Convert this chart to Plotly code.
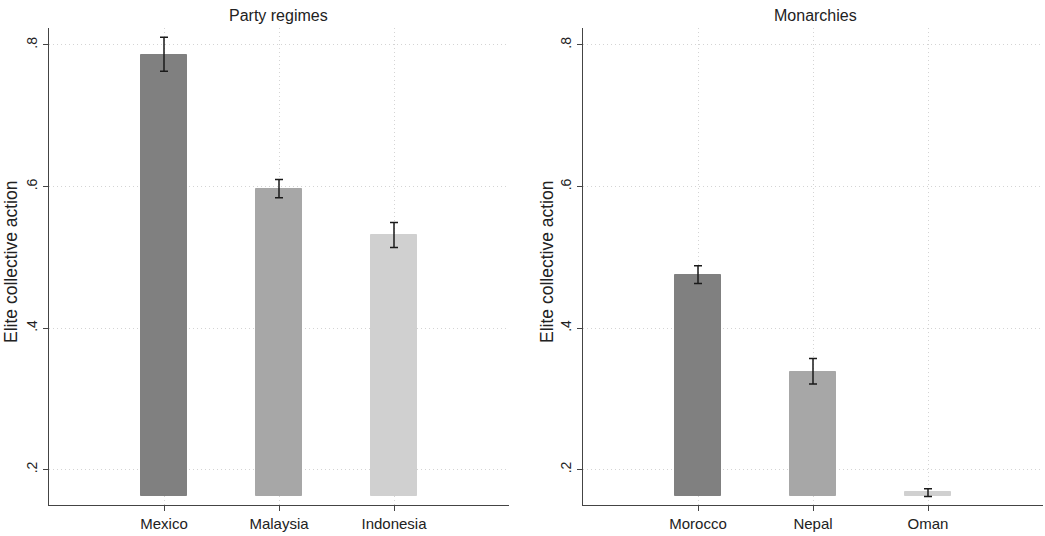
import plotly.graph_objects as go

party_cats = ["Mexico", "Malaysia", "Indonesia"]
party_vals = [0.786, 0.597, 0.532]
party_lo = [0.763, 0.584, 0.514]
party_hi = [0.811, 0.610, 0.549]

mon_cats = ["Morocco", "Nepal", "Oman"]
mon_vals = [0.475, 0.338, 0.168]
mon_lo = [0.463, 0.321, 0.162]
mon_hi = [0.488, 0.357, 0.173]

bar_base = 0.163
ytick_vals = [0.2, 0.4, 0.6, 0.8]
ytick_text = [".2", ".4", ".6", ".8"]
colors = ["#808080", "#a7a7a7", "#d0d0d0"]

W, H = 1045, 536
ML, MR, MT, MB = 49, 2, 28, 31
PW = W - ML - MR
PH = H - MT - MB

def px(x):
    return (x - ML) / PW

def py(y):
    return (H - MB - y) / PH

fig = go.Figure()

def add_panel(cats, vals, lo, hi, xa, ya):
    pos = list(range(len(cats)))
    fig.add_trace(go.Bar(
        x=pos, y=[v - bar_base for v in vals], base=bar_base,
        width=0.4, marker=dict(color=colors, line=dict(color=colors, width=1)),
        xaxis=xa, yaxis=ya, showlegend=False, hoverinfo="skip"))
    fig.add_trace(go.Scatter(
        x=pos, y=vals, mode="markers",
        marker=dict(size=0.1, color="rgba(0,0,0,0)"),
        error_y=dict(type="data", symmetric=False,
                     array=[h - v for h, v in zip(hi, vals)],
                     arrayminus=[v - l for v, l in zip(vals, lo)],
                     color="#1a1a1a", thickness=1.5, width=4),
        xaxis=xa, yaxis=ya, showlegend=False, hoverinfo="skip"))

add_panel(party_cats, party_vals, party_lo, party_hi, "x", "y")
add_panel(mon_cats, mon_vals, mon_lo, mon_hi, "x2", "y2")

ff = "Liberation Sans, Arial, sans-serif"
font = dict(family=ff, size=14, color="#222")
xfont = dict(family=ff, size=15, color="#222")
grid = dict(showgrid=True, gridcolor="#d4d4d4", griddash="1px,3px", gridwidth=1)

xcommon = dict(range=[-1, 3], showline=True, linecolor="#444", linewidth=1.2,
               ticks="outside", ticklen=5, tickcolor="#444", zeroline=False,
               tickfont=xfont, automargin=False, **grid)
ycommon = dict(range=[0.150, 0.824], showline=True, linecolor="#444", linewidth=1.2,
               ticks="outside", ticklen=5, tickcolor="#444", zeroline=False,
               tickvals=ytick_vals, ticktext=ytick_text, tickangle=-90,
               tickfont=font, automargin=False, **grid)

tfont = dict(family=ff, size=16, color="#222")
yfont = dict(family=ff, size=17.5, color="#222")

def ann(text, x, y, f, angle=0):
    return dict(text=text, x=px(x), y=py(y), xref="paper", yref="paper",
                xanchor="center", yanchor="middle", textangle=angle,
                showarrow=False, font=f)

fig.update_layout(
    width=W, height=H,
    margin=dict(l=ML, r=MR, t=MT, b=MB, autoexpand=False),
    plot_bgcolor="white", paper_bgcolor="white",
    font=font,
    bargap=0,
    xaxis=dict(domain=[px(49), px(509)], tickvals=[0, 1, 2], ticktext=party_cats, **xcommon),
    yaxis=dict(anchor="x", **ycommon),
    xaxis2=dict(domain=[px(583), px(1043)], tickvals=[0, 1, 2], ticktext=mon_cats, anchor="y2", **xcommon),
    yaxis2=dict(anchor="x2", **ycommon),
    annotations=[
        ann("Party regimes", 278, 15, tfont),
        ann("Monarchies", 815, 15, tfont),
        ann("Elite collective action", 11, 262, yfont, -90),
        ann("Elite collective action", 547, 262, yfont, -90),
    ],
)

fig.write_html("out.html", config={"displayModeBar": False},
               post_script="document.body.style.margin='0';document.body.style.overflow='hidden';")
